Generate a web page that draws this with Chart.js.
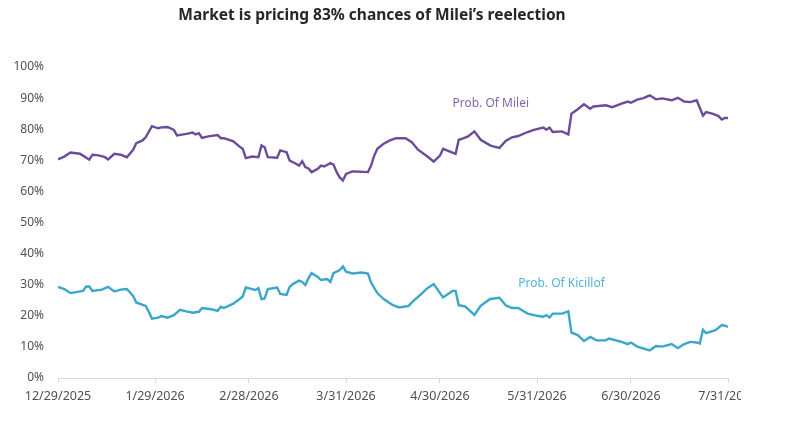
<!doctype html>
<html>

<head>
    <title>Milei reelection odds</title>
    <script src="https://cdn.jsdelivr.net/npm/chart.js"></script>
</head>

<body style="margin:0; background-color:#fff;">

    <div style="width:741px; height:439px; overflow:hidden;">
        <canvas id="odds" width="800" height="439"></canvas>
    </div>

    <script>
        // days since 12/29/2025
        var tickDays = [0, 31, 61, 92, 122, 153, 183, 214];
        var tickLabels = ['12/29/2025', '1/29/2026', '2/28/2026', '3/31/2026', '4/30/2026', '5/31/2026', '6/30/2026', '7/31/2026'];

        var mileiDays = [0, 2, 4, 7, 8, 10, 11, 13, 15, 16, 18, 20, 22, 24, 25, 27, 28, 30, 32, 33, 35, 37, 38, 41, 43, 44, 45, 46, 48, 51, 52, 53, 56, 58, 59, 60, 62, 64, 65, 66, 67, 70, 71, 73, 74, 76, 77, 78, 79, 80, 81, 83, 84, 85, 87, 88, 89, 90, 91, 92, 94, 95, 99, 100, 101, 102, 104, 106, 108, 111, 113, 115, 118, 120, 122, 123, 125, 127, 128, 129, 131, 133, 135, 138, 139, 141, 143, 145, 147, 150, 152, 155, 156, 157, 158, 161, 163, 164, 166, 168, 170, 171, 175, 177, 180, 182, 183, 185, 187, 189, 191, 193, 196, 198, 200, 202, 204, 206, 207, 209, 211, 212, 213, 214];
        var mileiProb = [70.3, 71.2, 72.5, 72.1, 71.5, 70.2, 71.8, 71.6, 71.0, 70.3, 72.1, 71.8, 71.0, 73.4, 75.5, 76.4, 77.4, 81.0, 80.3, 80.6, 80.7, 79.8, 78.0, 78.5, 78.9, 78.3, 78.7, 77.2, 77.7, 78.1, 77.1, 77.1, 76.1, 74.4, 73.7, 70.7, 71.2, 71.0, 74.8, 74.2, 71.0, 70.8, 73.2, 72.6, 69.9, 68.9, 68.3, 69.7, 67.8, 67.4, 66.2, 67.3, 68.3, 68.0, 69.1, 68.6, 66.2, 64.5, 63.5, 65.6, 66.4, 66.4, 66.2, 68.3, 71.5, 73.7, 75.3, 76.4, 77.1, 77.1, 75.8, 73.4, 71.2, 69.6, 71.5, 73.7, 72.9, 72.1, 76.6, 76.9, 77.7, 79.3, 76.6, 74.8, 74.5, 74.0, 76.2, 77.4, 77.8, 79.1, 79.8, 80.5, 79.9, 80.5, 79.1, 79.3, 78.3, 85.0, 86.4, 88.0, 86.6, 87.3, 87.7, 87.1, 88.2, 88.9, 88.5, 89.5, 90.0, 90.9, 89.6, 89.9, 89.3, 90.1, 88.9, 88.7, 89.3, 84.4, 85.5, 85.0, 84.2, 83.1, 83.6, 83.6];

        var kicilDays = [0, 2, 4, 8, 9, 10, 11, 14, 16, 18, 20, 22, 24, 25, 28, 29, 30, 32, 33, 35, 37, 39, 41, 43, 45, 46, 49, 51, 52, 53, 56, 58, 59, 60, 62, 63, 64, 65, 66, 67, 70, 71, 73, 74, 75, 77, 78, 79, 80, 81, 83, 84, 86, 87, 88, 90, 91, 92, 94, 97, 99, 100, 102, 104, 107, 109, 112, 113, 116, 118, 120, 123, 126, 127, 128, 130, 133, 135, 138, 141, 143, 145, 147, 150, 153, 155, 156, 157, 158, 161, 163, 164, 166, 168, 170, 172, 175, 176, 180, 182, 183, 185, 189, 191, 193, 196, 198, 200, 202, 204, 205, 206, 207, 210, 212, 213, 214];
        var kicilProb = [29.3, 28.6, 27.3, 28.0, 29.4, 29.4, 28.0, 28.4, 29.3, 27.8, 28.4, 28.6, 26.4, 24.3, 23.2, 21.3, 19.1, 19.4, 19.9, 19.4, 20.2, 21.9, 21.4, 21.0, 21.3, 22.5, 22.1, 21.6, 22.9, 22.5, 23.9, 25.4, 26.2, 29.1, 28.6, 28.3, 28.9, 25.4, 25.6, 28.6, 29.1, 27.0, 26.7, 29.3, 30.2, 31.3, 30.9, 29.9, 32.1, 33.7, 32.5, 31.5, 31.8, 30.9, 33.7, 34.7, 35.9, 34.2, 33.6, 33.9, 33.6, 30.7, 27.3, 25.4, 23.4, 22.7, 23.2, 24.3, 27.0, 28.9, 30.2, 25.9, 28.0, 28.0, 23.4, 23.0, 20.3, 23.2, 25.4, 25.8, 23.4, 22.5, 22.5, 20.7, 20.0, 19.7, 20.2, 19.4, 20.7, 20.7, 21.4, 14.6, 13.8, 11.9, 13.2, 12.1, 12.1, 12.7, 11.6, 10.9, 11.4, 10.1, 8.9, 10.3, 10.1, 10.9, 9.6, 10.9, 11.6, 11.4, 11.1, 15.5, 14.4, 15.4, 17.0, 16.8, 16.4];

        var titleText = 'Market is pricing 83% chances of Milei\u2019s reelection';

        function toPoints(days, vals) {
            return days.map((d, i) => ({ x: d, y: vals[i] }));
        }

        // title + in-chart series labels
        var textLayer = {
            id: 'textLayer',
            afterDraw(chart) {
                var ctx = chart.ctx;
                var xs = chart.scales.x, ys = chart.scales.y;
                ctx.save();
                ctx.textBaseline = 'middle';
                ctx.font = 'bold 15.5px "Noto Sans", sans-serif';
                ctx.fillStyle = '#262626';
                ctx.textAlign = 'center';
                ctx.fillText(titleText, 372, 16);

                ctx.font = '12px "Noto Sans", sans-serif';
                ctx.textAlign = 'left';
                ctx.fillStyle = '#8266ad';
                ctx.fillText('Prob. Of Milei', xs.getPixelForValue(126), ys.getPixelForValue(88.3));
                ctx.fillStyle = '#4fb6d6';
                ctx.fillText('Prob. Of Kicillof', xs.getPixelForValue(147), ys.getPixelForValue(30.4));
                ctx.restore();
            }
        };

        var grafico = new Chart(document.getElementById('odds').getContext('2d'), {
            type: 'line',
            data: {
                datasets: [{
                    label: 'Prob. Of Milei',
                    data: toPoints(mileiDays, mileiProb),
                    borderColor: '#6b4c9a',
                    borderWidth: 2.4,
                    pointRadius: 0,
                    tension: 0
                }, {
                    label: 'Prob. Of Kicillof',
                    data: toPoints(kicilDays, kicilProb),
                    borderColor: '#3aa7c9',
                    borderWidth: 2.4,
                    pointRadius: 0,
                    tension: 0
                }]
            },
            options: {
                responsive: false,
                animation: false,
                layout: {
                    padding: { top: 67, right: 72, bottom: 29, left: 0 }
                },
                plugins: {
                    legend: { display: false },
                    tooltip: { enabled: false }
                },
                scales: {
                    x: {
                        type: 'linear',
                        min: 0,
                        max: 214,
                        afterBuildTicks: (scale) => {
                            scale.ticks = tickDays.map(d => ({ value: d }));
                        },
                        grid: {
                            drawOnChartArea: false,
                            drawTicks: true,
                            tickLength: 5,
                            color: '#d9d9d9'
                        },
                        border: { color: '#d9d9d9' },
                        ticks: {
                            autoSkip: false,
                            maxRotation: 0,
                            padding: 6,
                            color: '#505050',
                            font: { family: '"Noto Sans", sans-serif', size: 12.5 },
                            callback: (v) => tickLabels[tickDays.indexOf(v)]
                        }
                    },
                    y: {
                        min: 0,
                        max: 100,
                        afterFit: (scale) => { scale.width = 58; },
                        grid: { display: false, drawTicks: false },
                        border: { display: false },
                        ticks: {
                            stepSize: 10,
                            padding: 14,
                            color: '#505050',
                            font: { family: '"Noto Sans", sans-serif', size: 12 },
                            callback: (v) => v + '%'
                        }
                    }
                }
            },
            plugins: [textLayer]
        });
    </script>
</body>

</html>
